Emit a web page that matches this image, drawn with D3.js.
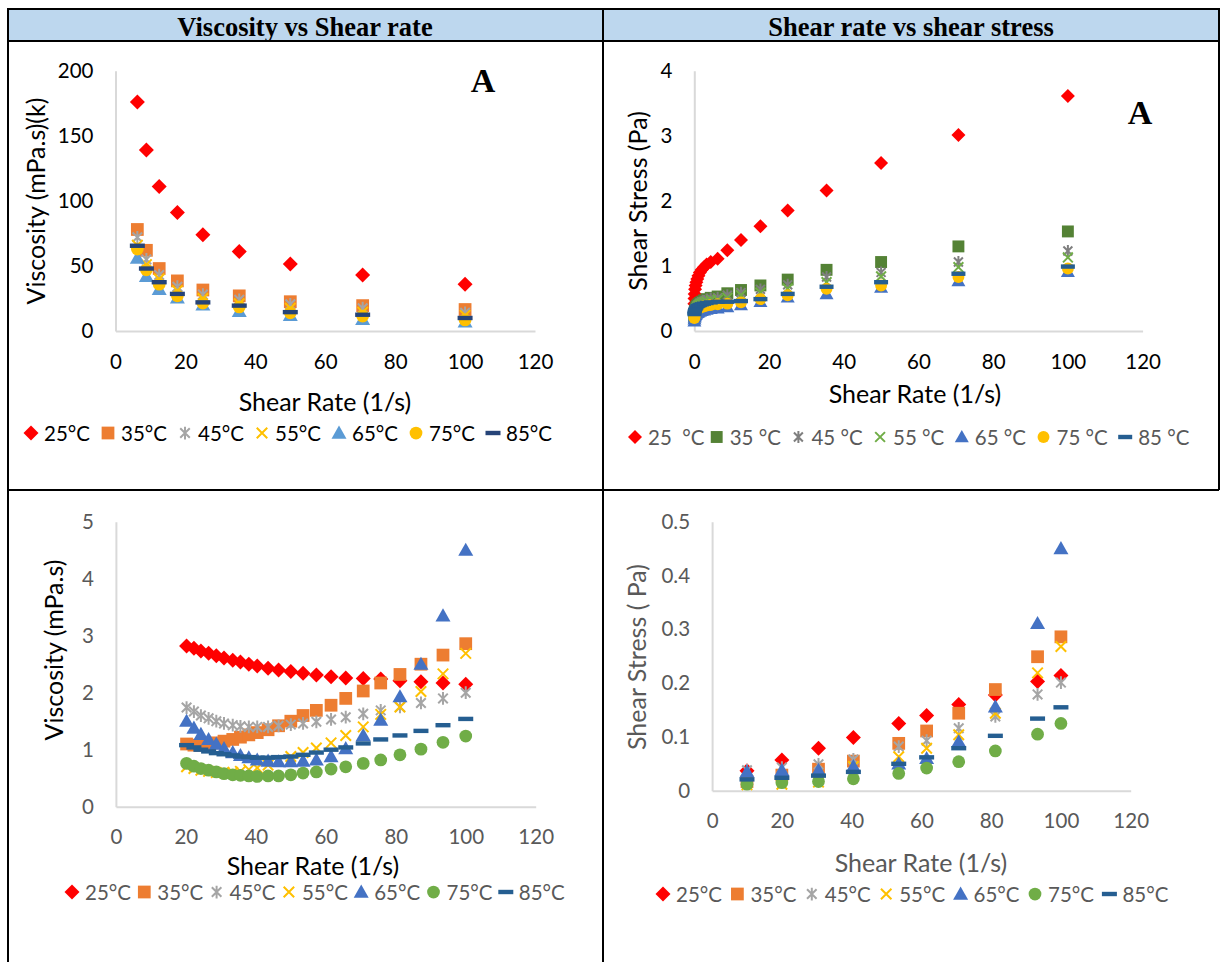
<!DOCTYPE html>
<html>
<head>
<meta charset="utf-8">
<script src="https://cdn.jsdelivr.net/npm/d3@7"></script>
<style>
  body { margin: 0; background: #fff; }
  text { font-family: Lato, "Open Sans", sans-serif; }
</style>
</head>
<body>
<svg id="fig" width="1221" height="962"></svg>
<script>
// ---- data ----
const xTicks = [0, 20, 40, 60, 80, 100, 120];
const shapes = ['diamond', 'square', 'asterisk', 'x', 'triangle', 'circle', 'dash'];
const tempLabels = ['25°C', '35°C', '45°C', '55°C', '65°C', '75°C', '85°C'];
const tempLabelsSpaced = ['25  °C', '35 °C', '45 °C', '55 °C', '65 °C', '75 °C', '85 °C'];

// top-left: viscosity (mPa.s)(k) vs shear rate
const p1Rates = [6.25, 8.84, 12.5, 17.7, 25, 35.4, 50, 70.7, 100];
const p1Visc25 = [176, 139, 111, 91, 74, 61, 51.5, 43, 36];
const p1Visc35 = [78, 62, 48, 38.5, 31.5, 27, 22.5, 19.5, 16.5];
const p1Visc45 = [72, 55, 43, 34, 28, 24, 20.5, 17.5, 14];
const p1Visc55 = [66, 51, 40, 31, 25, 21, 17.5, 14.5, 12];
const p1Visc65 = [56, 42, 32, 25.5, 20, 15, 12, 9, 7];
const p1Visc75 = [63, 47, 36, 27, 21.5, 18.5, 14, 11.5, 8.5];
const p1Visc85 = [65.5, 48, 37.5, 28.5, 22, 19.5, 14.5, 12.5, 10];

// top-right: shear stress (Pa) vs shear rate
const p2Rates = [0.02, 0.05, 0.1, 0.2, 0.35, 0.55, 0.8, 1.1, 1.5, 2, 2.6, 3.3, 4.4,
                 6.25, 8.84, 12.5, 17.7, 25, 35.4, 50, 70.7, 100];
const p2Stress25 = [0.42, 0.5, 0.57, 0.64, 0.7, 0.75, 0.8, 0.85, 0.9, 0.94, 0.98, 1.02, 1.06,
                    1.11, 1.24, 1.40, 1.61, 1.85, 2.16, 2.58, 3.01, 3.61];
const p2Stress35 = [0.2, 0.24, 0.28, 0.31, 0.34, 0.37, 0.39, 0.41, 0.43, 0.45, 0.47, 0.49, 0.51,
                    0.53, 0.58, 0.63, 0.70, 0.79, 0.94, 1.06, 1.30, 1.53];
const p2Stress45 = [0.22, 0.26, 0.29, 0.32, 0.35, 0.37, 0.39, 0.41, 0.43, 0.45, 0.46, 0.48, 0.5,
                    0.51, 0.55, 0.59, 0.64, 0.71, 0.83, 0.90, 1.06, 1.23];
const p2Stress55 = [0.22, 0.26, 0.29, 0.31, 0.33, 0.35, 0.37, 0.39, 0.41, 0.42, 0.44, 0.45, 0.47,
                    0.48, 0.51, 0.55, 0.59, 0.65, 0.75, 0.84, 0.98, 1.13];
const p2Stress65 = [0.15, 0.18, 0.21, 0.23, 0.25, 0.27, 0.28, 0.29, 0.3, 0.31, 0.32, 0.33, 0.34,
                    0.35, 0.37, 0.4, 0.45, 0.52, 0.57, 0.67, 0.77, 0.91];
const p2Stress75 = [0.2, 0.22, 0.25, 0.27, 0.29, 0.31, 0.33, 0.34, 0.36, 0.37, 0.38, 0.39, 0.4,
                    0.41, 0.42, 0.44, 0.49, 0.55, 0.65, 0.70, 0.83, 0.96];
const p2Stress85 = [0.26, 0.28, 0.3, 0.32, 0.34, 0.36, 0.38, 0.39, 0.4, 0.41, 0.42, 0.43, 0.44,
                    0.45, 0.45, 0.46, 0.49, 0.57, 0.68, 0.75, 0.88, 0.99];

// bottom-left: viscosity (mPa.s) vs shear rate
const p3Rates = [20.2, 22.3, 24.3, 26.5, 28.7, 30.9, 33.4, 35.6, 38, 40.4, 43.5, 46.5,
                 50, 53.5, 57.3, 61.5, 65.7, 70.7, 75.7, 81.2, 87.2, 93.5, 100];
const p3Visc25 = [2.82, 2.78, 2.73, 2.69, 2.65, 2.61, 2.57, 2.54, 2.50, 2.47, 2.43, 2.40,
                  2.37, 2.34, 2.31, 2.28, 2.26, 2.25, 2.24, 2.21, 2.19, 2.17, 2.15];
const p3Visc35 = [1.1, 1.08, 1.08, 1.1, 1.12, 1.15, 1.18, 1.22, 1.26, 1.3, 1.35, 1.42,
                  1.5, 1.6, 1.69, 1.78, 1.9, 2.03, 2.17, 2.32, 2.5, 2.66, 2.86];
const p3Visc45 = [1.74, 1.67, 1.6, 1.55, 1.5, 1.46, 1.43, 1.41, 1.4, 1.4, 1.4, 1.42,
                  1.44, 1.46, 1.49, 1.53, 1.57, 1.63, 1.69, 1.75, 1.82, 1.9, 2.0];
const p3Visc55 = [0.7, 0.67, 0.64, 0.62, 0.6, 0.6, 0.6, 0.62, 0.65, 0.68, 0.73, 0.8,
                  0.88, 0.95, 1.03, 1.12, 1.25, 1.4, 1.62, 1.75, 2.02, 2.33, 2.69];
const p3Visc65 = [1.5, 1.38, 1.27, 1.18, 1.1, 1.02, 0.95, 0.9, 0.86, 0.82, 0.8, 0.79,
                  0.79, 0.8, 0.82, 0.88, 1.02, 1.25, 1.52, 1.93, 2.5, 3.35, 4.5];
const p3Visc75 = [0.76, 0.71, 0.67, 0.64, 0.61, 0.58, 0.56, 0.55, 0.54, 0.53, 0.54, 0.54,
                  0.56, 0.59, 0.61, 0.66, 0.7, 0.76, 0.82, 0.91, 1.01, 1.13, 1.24];
const p3Visc85 = [1.08, 1.04, 1.0, 0.97, 0.94, 0.92, 0.9, 0.88, 0.87, 0.86, 0.86, 0.87,
                  0.88, 0.91, 0.95, 1.0, 1.04, 1.11, 1.18, 1.25, 1.33, 1.43, 1.54];

// bottom-right: shear stress (Pa) vs shear rate
const p4Rates = [10, 20, 30.5, 40.5, 53.5, 61.5, 70.7, 81.2, 93.3, 100];
const p4Stress25 = [0.037, 0.057, 0.079, 0.099, 0.125, 0.14, 0.16, 0.178, 0.203, 0.214];
const p4Stress35 = [0.017, 0.029, 0.04, 0.055, 0.088, 0.111, 0.144, 0.188, 0.249, 0.286];
const p4Stress45 = [0.038, 0.043, 0.049, 0.058, 0.082, 0.093, 0.116, 0.138, 0.179, 0.201];
const p4Stress55 = [0.011, 0.012, 0.016, 0.045, 0.063, 0.079, 0.104, 0.144, 0.219, 0.268];
const p4Stress65 = [0.035, 0.038, 0.038, 0.045, 0.05, 0.06, 0.091, 0.156, 0.311, 0.45];
const p4Stress75 = [0.012, 0.015, 0.017, 0.022, 0.032, 0.042, 0.054, 0.074, 0.105, 0.125];
const p4Stress85 = [0.021, 0.024, 0.028, 0.035, 0.05, 0.062, 0.079, 0.102, 0.134, 0.155];

const coloursTop1 = ['#ff0000', '#ed7d31', '#a5a5a5', '#ffc000', '#5b9bd5', '#ffc000', '#264478'];
const coloursTop2 = ['#ff0000', '#548235', '#7f7f7f', '#70ad47', '#4472c4', '#ffc000', '#255e91'];
const coloursBottom = ['#ff0000', '#ed7d31', '#a5a5a5', '#ffc000', '#4472c4', '#70ad47', '#255e91'];

const svg = d3.select('#fig');
svg.append('rect').attr('width', 1221).attr('height', 962).attr('fill', '#fff');

// ---- table frame ----
svg.append('rect').attr('x', 8).attr('y', 9).attr('width', 1211).attr('height', 32).attr('fill', '#bdd7ee');
const frame = [
  [7, 9, 1220, 9], [7, 41, 1220, 41], [8, 9, 8, 962], [603, 9, 603, 962],
  [1219, 9, 1219, 490], [8, 490, 1219, 490]
];
svg.selectAll('line.frame').data(frame).join('line')
  .attr('class', 'frame')
  .attr('x1', d => d[0]).attr('y1', d => d[1]).attr('x2', d => d[2]).attr('y2', d => d[3])
  .attr('stroke', '#000').attr('stroke-width', 2);

svg.append('text').attr('x', 305).attr('y', 27).text('Viscosity vs Shear rate');
svg.append('text').attr('x', 911).attr('y', 27).text('Shear rate vs shear stress');
svg.selectAll('text')
  .attr('text-anchor', 'middle').attr('dominant-baseline', 'central')
  .style('font-family', '"Liberation Serif", "Times New Roman", serif')
  .style('font-weight', 'bold').style('font-size', '26.5px');

function drawMarker(g, shape, color, s) {
  const h = s / 2;
  if (shape === 'diamond') {
    g.append('path').attr('d', `M0,${-h}L${h},0L0,${h}L${-h},0Z`).attr('fill', color);
  } else if (shape === 'square') {
    const q = h * 0.85;
    g.append('rect').attr('x', -q).attr('y', -q).attr('width', 2 * q).attr('height', 2 * q).attr('fill', color);
  } else if (shape === 'asterisk') {
    const a = h * 0.85, b = a * 0.75;
    g.append('path').attr('d', `M0,${-a}V${a}M${-b},${-b}L${b},${b}M${-b},${b}L${b},${-b}`)
      .attr('stroke', color).attr('stroke-width', 2).attr('fill', 'none');
  } else if (shape === 'x') {
    const b = h * 0.7;
    g.append('path').attr('d', `M${-b},${-b}L${b},${b}M${-b},${b}L${b},${-b}`)
      .attr('stroke', color).attr('stroke-width', 2).attr('fill', 'none');
  } else if (shape === 'triangle') {
    g.append('path').attr('d', `M0,${-h}L${h},${h * 0.75}L${-h},${h * 0.75}Z`).attr('fill', color);
  } else if (shape === 'circle') {
    g.append('circle').attr('r', h * 0.85).attr('fill', color);
  } else if (shape === 'dash') {
    g.append('rect').attr('x', -h).attr('y', -2.2).attr('width', s).attr('height', 4.4).attr('fill', color);
  }
}

function drawPanel(cfg) {
  const x = d3.scaleLinear().domain([0, 120]).range([cfg.left, cfg.right]);
  const y = d3.scaleLinear().domain([0, cfg.yMax]).range([cfg.bottom, cfg.top]);
  const root = svg.append('g');

  const gx = root.append('g').attr('transform', `translate(0,${cfg.bottom})`)
    .call(d3.axisBottom(x).tickValues(xTicks).tickSize(0).tickSizeOuter(0).tickPadding(23));
  const gy = root.append('g').attr('transform', `translate(${cfg.left},0)`)
    .call(d3.axisLeft(y).tickValues(cfg.yTicks).tickSize(0).tickSizeOuter(0).tickPadding(22).tickFormat(d => String(d)));
  [gx, gy].forEach(g => {
    g.attr('font-family', null).attr('font-size', null);
    g.select('.domain').attr('stroke', '#d9d9d9').attr('stroke-width', 2);
    g.selectAll('text').style('font-size', '20.5px').attr('fill', cfg.tickColor);
  });

  root.append('text').attr('x', cfg.xTitle[0]).attr('y', cfg.xTitle[1])
    .attr('text-anchor', 'middle').attr('dominant-baseline', 'central')
    .style('font-size', '25px').attr('fill', cfg.xTitleColor).text('Shear Rate (1/s)');
  root.append('text').attr('transform', `translate(${cfg.yTitle[0]},${cfg.yTitle[1]}) rotate(-90)`)
    .attr('text-anchor', 'middle').attr('dominant-baseline', 'central')
    .style('font-size', '25px').attr('fill', cfg.yTitleColor).text(cfg.yLabel);

  if (cfg.tag) {
    root.append('text').attr('x', cfg.tag[0]).attr('y', cfg.tag[1])
      .attr('text-anchor', 'middle').attr('dominant-baseline', 'central')
      .style('font-family', '"Liberation Serif", "Times New Roman", serif')
      .style('font-weight', 'bold').style('font-size', '34px').text('A');
  }

  cfg.series.forEach((vals, si) => {
    const pts = cfg.xs.map((xv, i) => [xv, vals[i]]);
    root.append('g').selectAll('g').data(pts).join('g')
      .attr('transform', d => `translate(${x(d[0])},${y(d[1])})`)
      .each(function () { drawMarker(d3.select(this), shapes[si], cfg.colours[si], cfg.size); });
  });

  const lg = root.append('g');
  cfg.labels.forEach((lab, i) => {
    const cx = cfg.legend.x + i * cfg.legend.step;
    drawMarker(lg.append('g').attr('transform', `translate(${cx},${cfg.legend.y})`), shapes[i], cfg.colours[i], cfg.size);
    lg.append('text').attr('x', cx + 13).attr('y', cfg.legend.y)
      .attr('dominant-baseline', 'central').style('white-space', 'pre')
      .style('font-size', '20.5px').attr('fill', cfg.legendColor).text(lab);
  });
}

drawPanel({
  left: 115.5, right: 535, bottom: 331, top: 70.7, yMax: 200, yTicks: [0, 50, 100, 150, 200],
  xs: p1Rates, series: [p1Visc25, p1Visc35, p1Visc45, p1Visc55, p1Visc65, p1Visc75, p1Visc85],
  colours: coloursTop1, size: 15, labels: tempLabels,
  tickColor: '#000', xTitleColor: '#000', yTitleColor: '#000', legendColor: '#000',
  xTitle: [325, 401], yTitle: [35, 201], yLabel: 'Viscosity (mPa.s)(k)', tag: [483, 80],
  legend: { x: 31, y: 433, step: 77 }
});
drawPanel({
  left: 694.3, right: 1142.6, bottom: 331, top: 70.7, yMax: 4, yTicks: [0, 1, 2, 3, 4],
  xs: p2Rates, series: [p2Stress25, p2Stress35, p2Stress45, p2Stress55, p2Stress65, p2Stress75, p2Stress85],
  colours: coloursTop2, size: 14, labels: tempLabelsSpaced,
  tickColor: '#000', xTitleColor: '#000', yTitleColor: '#000', legendColor: '#595959',
  xTitle: [915, 393], yTitle: [637, 201], yLabel: 'Shear Stress (Pa)', tag: [1140, 112],
  legend: { x: 635, y: 437, step: 81.7 }
});
drawPanel({
  left: 115.9, right: 535.7, bottom: 806.7, top: 521.7, yMax: 5, yTicks: [0, 1, 2, 3, 4, 5],
  xs: p3Rates, series: [p3Visc25, p3Visc35, p3Visc45, p3Visc55, p3Visc65, p3Visc75, p3Visc85],
  colours: coloursBottom, size: 15, labels: tempLabels,
  tickColor: '#595959', xTitleColor: '#000', yTitleColor: '#000', legendColor: '#595959',
  xTitle: [313, 865], yTitle: [53, 650], yLabel: 'Viscosity (mPa.s)', tag: null,
  legend: { x: 72, y: 892, step: 72.3 }
});
drawPanel({
  left: 712.1, right: 1130.7, bottom: 790.7, top: 521.7, yMax: 0.5, yTicks: [0, 0.1, 0.2, 0.3, 0.4, 0.5],
  xs: p4Rates, series: [p4Stress25, p4Stress35, p4Stress45, p4Stress55, p4Stress65, p4Stress75, p4Stress85],
  colours: coloursBottom, size: 15, labels: tempLabels,
  tickColor: '#595959', xTitleColor: '#595959', yTitleColor: '#595959', legendColor: '#595959',
  xTitle: [921, 862], yTitle: [636, 657], yLabel: 'Shear Stress ( Pa)', tag: null,
  legend: { x: 663, y: 894, step: 74.4 }
});
</script>
</body>
</html>
